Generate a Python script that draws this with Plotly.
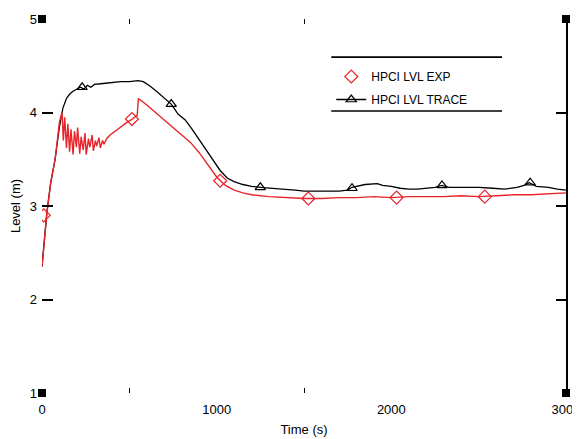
import plotly.graph_objects as go

# ---------------- data ----------------
exp_time = [0, 28, 50, 75, 100, 115, 122, 130, 140, 148, 158, 166, 178, 186, 197, 204, 216, 224,
            236, 246, 253, 266, 274, 287, 294, 306, 313, 326, 334, 347, 355, 370, 390, 410, 430,
            450, 470, 490, 510, 530, 545, 552, 560, 600, 650, 700, 750, 800, 850, 900, 950,
            1000, 1050, 1100, 1150, 1200, 1300, 1400, 1500, 1600, 1700, 1800, 1900, 2000, 2100,
            2200, 2300, 2400, 2500, 2600, 2700, 2800, 2900, 3000]
exp_level = [2.35, 2.93, 3.25, 3.5, 3.9, 4.0, 3.7, 3.95, 3.62, 3.88, 3.58, 3.82, 3.55, 3.8, 3.63,
             3.84, 3.56, 3.74, 3.6, 3.78, 3.55, 3.72, 3.63, 3.76, 3.59, 3.7, 3.64, 3.73, 3.62,
             3.7, 3.66, 3.72, 3.76, 3.79, 3.81, 3.84, 3.87, 3.9, 3.92, 3.95, 3.97, 4.15, 4.14,
             4.08, 4.0, 3.92, 3.85, 3.77, 3.68, 3.57, 3.44, 3.31, 3.22, 3.17, 3.14, 3.12, 3.1,
             3.09, 3.08, 3.08, 3.09, 3.09, 3.1, 3.09, 3.1, 3.1, 3.1, 3.11, 3.1, 3.11, 3.12, 3.12,
             3.13, 3.14]
exp_mark_time = [10, 515, 1020, 1525, 2030, 2535]
exp_mark_level = [2.9, 3.93, 3.27, 3.08, 3.09, 3.1]

trace_time = [0, 28, 50, 75, 100, 120, 140, 160, 180, 200, 220, 240, 260, 280, 300, 350, 400,
              450, 500, 550, 580, 620, 660, 700, 740, 780, 820, 860, 900, 940, 980, 1020, 1060,
              1100, 1150, 1200, 1250, 1300, 1375, 1450, 1500, 1600, 1700, 1750, 1775, 1850,
              1920, 1950, 2000, 2050, 2100, 2150, 2200, 2250, 2290, 2330, 2400, 2500, 2580,
              2650, 2720, 2760, 2790, 2830, 2900, 2950, 3000]
trace_level = [2.35, 2.93, 3.25, 3.5, 3.85, 4.05, 4.15, 4.2, 4.23, 4.25, 4.27, 4.25, 4.29, 4.27,
               4.3, 4.31, 4.32, 4.33, 4.33, 4.34, 4.33, 4.28, 4.22, 4.15, 4.09, 3.98, 3.92, 3.82,
               3.71, 3.6, 3.49, 3.38, 3.3, 3.26, 3.23, 3.21, 3.2, 3.19, 3.18, 3.17, 3.16, 3.16,
               3.16, 3.17, 3.2, 3.23, 3.24, 3.22, 3.21, 3.19, 3.18, 3.18, 3.19, 3.2, 3.22, 3.2,
               3.2, 3.2, 3.19, 3.18, 3.2, 3.22, 3.25, 3.21, 3.2, 3.18, 3.17]
trace_mark_time = [230, 740, 1250, 1775, 2290, 2795]
trace_mark_level = [4.27, 4.09, 3.2, 3.19, 3.22, 3.25]

x_ticks = [0, 1000, 2000, 3000]
x_minor = [500, 1500]
y_ticks = [1, 2, 3, 4, 5]
x_range = [0, 3000]
y_range = [1, 5]

exp_name = "HPCI LVL EXP"
trace_name = "HPCI LVL TRACE"

RED = "#e8242a"
FONT = "Liberation Sans, Arial, sans-serif"

fig = go.Figure()

fig.add_trace(go.Scatter(x=trace_time, y=trace_level, mode="lines",
                         line=dict(color="black", width=1.3), showlegend=False))
fig.add_trace(go.Scatter(x=trace_mark_time, y=trace_mark_level, mode="markers",
                         marker=dict(symbol="triangle-up-open", size=9, color="black",
                                     line=dict(width=1.2)), showlegend=False))
fig.add_trace(go.Scatter(x=exp_time, y=exp_level, mode="lines",
                         line=dict(color=RED, width=1.4), showlegend=False))
fig.add_trace(go.Scatter(x=exp_mark_time, y=exp_mark_level, mode="markers",
                         marker=dict(symbol="diamond-open", size=10, color=RED,
                                     line=dict(width=1.2)), showlegend=False))

# legend entries
fig.add_trace(go.Scatter(x=[None], y=[None], mode="markers", name=exp_name,
                         legendgroup="a",
                         marker=dict(symbol="diamond-open", size=10, color=RED,
                                     line=dict(width=1.2))))
fig.add_trace(go.Scatter(x=[None], y=[None], mode="lines+markers", name=trace_name,
                         legendgroup="b",
                         line=dict(color="black", width=1.3),
                         marker=dict(symbol="triangle-up-open", size=9, color="black",
                                     line=dict(width=1.2))))

# corner squares at axis range ends
fig.add_trace(go.Scatter(x=[x_range[0], x_range[1], x_range[0], x_range[1]],
                         y=[y_range[1], y_range[1], y_range[0], y_range[0]],
                         mode="markers", cliponaxis=False, showlegend=False,
                         marker=dict(symbol="square", size=8, color="black")))

# page body adds an 8px offset, so the figure is sized to the remaining window
fig.update_layout(
    width=572, height=431,
    margin=dict(l=34, r=14, t=11, b=46),
    paper_bgcolor="white", plot_bgcolor="white",
    font=dict(family=FONT, size=13, color="black"),
    showlegend=True,
    legend=dict(x=0.552, y=0.885, xanchor="left", yanchor="top",
                bgcolor="rgba(0,0,0,0)", borderwidth=0, tracegroupgap=4,
                font=dict(size=12), itemwidth=30),
    xaxis=dict(range=x_range, tickvals=x_ticks, ticks="", showline=False,
               showgrid=False, zeroline=False, tickfont=dict(size=13), automargin=False,
               ticklabelstandoff=7, ticklabeloverflow="allow",
               title=dict(text="Time (s)", font=dict(size=13), standoff=8),
               minor=dict(tickvals=x_minor, ticks="inside", ticklen=5,
                          tickcolor="black", showgrid=False)),
    xaxis2=dict(overlaying="x", matches="x", side="top", anchor="y", automargin=False,
                showticklabels=False, showline=False, showgrid=False, zeroline=False,
                ticks="", tickvals=x_ticks,
                minor=dict(tickvals=x_minor, ticks="inside", ticklen=5,
                           tickcolor="black", showgrid=False)),
    yaxis=dict(range=y_range, tickvals=y_ticks, ticks="inside", ticklen=11,
               tickcolor="black", tickwidth=1.5, showline=False, showgrid=False,
               zeroline=False, tickfont=dict(size=13), automargin=False,
               ticklabelstandoff=4,
               title=dict(text="Level (m)", font=dict(size=13), standoff=8)),
    yaxis2=dict(overlaying="y", matches="y", side="right", anchor="x", automargin=False,
                showline=True, linecolor="black", linewidth=1.6,
                ticks="inside", ticklen=10, tickwidth=1.5, tickcolor="black",
                tickvals=[2, 3, 4], showticklabels=False, showgrid=False, zeroline=False),
    shapes=[
        dict(type="line", xref="paper", yref="paper", x0=0.552, x1=0.878,
             y0=0.898, y1=0.898, line=dict(color="black", width=1.6)),
        dict(type="line", xref="paper", yref="paper", x0=0.552, x1=0.878,
             y0=0.754, y1=0.754, line=dict(color="black", width=1.6)),
    ],
)

# dummy trace to activate the secondary axes
fig.add_trace(go.Scatter(x=[None], y=[None], xaxis="x2", yaxis="y2", showlegend=False,
                         hoverinfo="skip"))

fig.write_html("out.html")
